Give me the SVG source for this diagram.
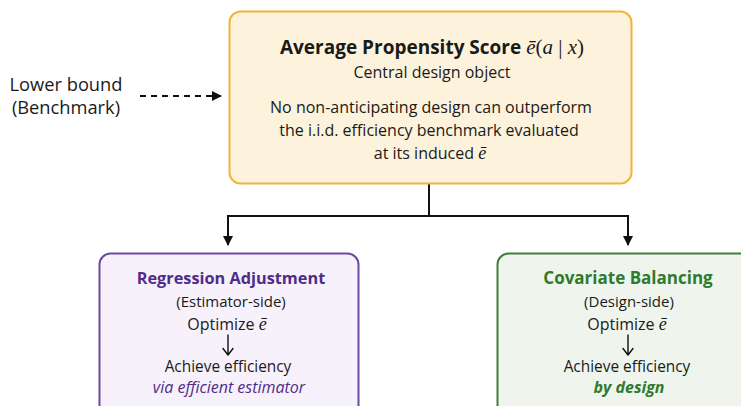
<svg xmlns="http://www.w3.org/2000/svg" width="741" height="406" viewBox="0 0 741 406">
  <defs>
    <marker id="arrow" viewBox="0 0 10 10" refX="9" refY="5" markerWidth="5" markerHeight="5" orient="auto">
      <path d="M0,0 L10,5 L0,10 z" fill="#111"/>
    </marker>
    <style>
      text { font-family: "Open Sans", "Noto Sans", "DejaVu Sans", sans-serif; fill: #1a1a1a; text-anchor: middle; }
      .title { font-weight: 700; font-size: 17px; }
      .body { font-size: 16px; }
      .math { font-family: "Liberation Serif", "DejaVu Serif", serif; font-style: italic; font-weight: 400; }
      .mathup { font-family: "Liberation Serif", "DejaVu Serif", serif; font-style: normal; font-weight: 400; }
      .conn { stroke: #111; stroke-width: 2; fill: none; }
      .down { stroke: #111; stroke-width: 1.4; fill: none; stroke-linecap: round; stroke-linejoin: round; }
    </style>
  </defs>

  <rect width="741" height="406" fill="#ffffff"/>

  <!-- benchmark label -->
  <g id="lower-bound">
    <text x="66" y="91" style="font-size:18.3px">Lower bound</text>
    <text x="66" y="114" style="font-size:18.3px">(Benchmark)</text>
  </g>

  <!-- connectors -->
  <g id="connectors">
    <line class="conn" x1="140" y1="96" x2="221" y2="96" stroke-dasharray="6,5" marker-end="url(#arrow)"/>
    <path class="conn" d="M429,184 V216 H228 V245" marker-end="url(#arrow)"/>
    <path class="conn" d="M429,216 H628 V245" marker-end="url(#arrow)"/>
  </g>

  <!-- central node -->
  <g id="average-propensity">
    <rect x="229.5" y="11.5" width="402" height="172" rx="11" fill="#fdf3dc" stroke="#f0b43a" stroke-width="2"/>
    <text x="432" y="54" class="title" style="font-size:19px">Average Propensity Score <tspan class="math" style="font-size:21px">ē</tspan><tspan class="mathup" style="font-size:21px">(</tspan><tspan class="math" style="font-size:21px">a</tspan><tspan class="mathup" style="font-size:21px"> | </tspan><tspan class="math" style="font-size:21px">x</tspan><tspan class="mathup" style="font-size:21px">)</tspan></text>
    <text x="432" y="78" class="body">Central design object</text>
    <text x="431" y="113" class="body">No non-anticipating design can outperform</text>
    <text x="429" y="136" class="body">the i.i.d. efficiency benchmark evaluated</text>
    <text x="430" y="159" class="body">at its induced <tspan class="math" style="font-size:18px">ē</tspan></text>
  </g>

  <!-- estimator-side node -->
  <g id="regression-adjustment">
    <rect x="99.5" y="253.5" width="259" height="170" rx="11" fill="#f6f1fa" stroke="#6b4aa0" stroke-width="2"/>
    <text x="231" y="284" class="title" style="fill:#4f2d86;font-size:16.3px">Regression Adjustment</text>
    <text x="231" y="307" class="body" style="font-size:15px">(Estimator-side)</text>
    <text x="227" y="330" class="body">Optimize <tspan class="math" style="font-size:18px">ē</tspan></text>
    <path class="down" d="M228,335 V354 M223,348.5 L228,355 L233,348.5"/>
    <text x="228" y="372" class="body" style="font-size:15.4px">Achieve efficiency</text>
    <text x="229" y="393" class="body" style="font-style:italic;fill:#4f2d86">via efficient estimator</text>
  </g>

  <!-- design-side node -->
  <g id="covariate-balancing">
    <rect x="497.5" y="253.5" width="260" height="170" rx="11" fill="#eff5ec" stroke="#3e7d3a" stroke-width="2"/>
    <text x="628" y="284" class="title" style="fill:#2e7a2e">Covariate Balancing</text>
    <text x="629" y="307" class="body" style="font-size:15px">(Design-side)</text>
    <text x="627" y="330" class="body">Optimize <tspan class="math" style="font-size:18px">ē</tspan></text>
    <path class="down" d="M628,335 V354 M623,348.5 L628,355 L633,348.5"/>
    <text x="627" y="372" class="body" style="font-size:15.4px">Achieve efficiency</text>
    <text x="629" y="393" class="body" style="font-style:italic;font-weight:700;fill:#2e7a2e">by design</text>
  </g>
</svg>
